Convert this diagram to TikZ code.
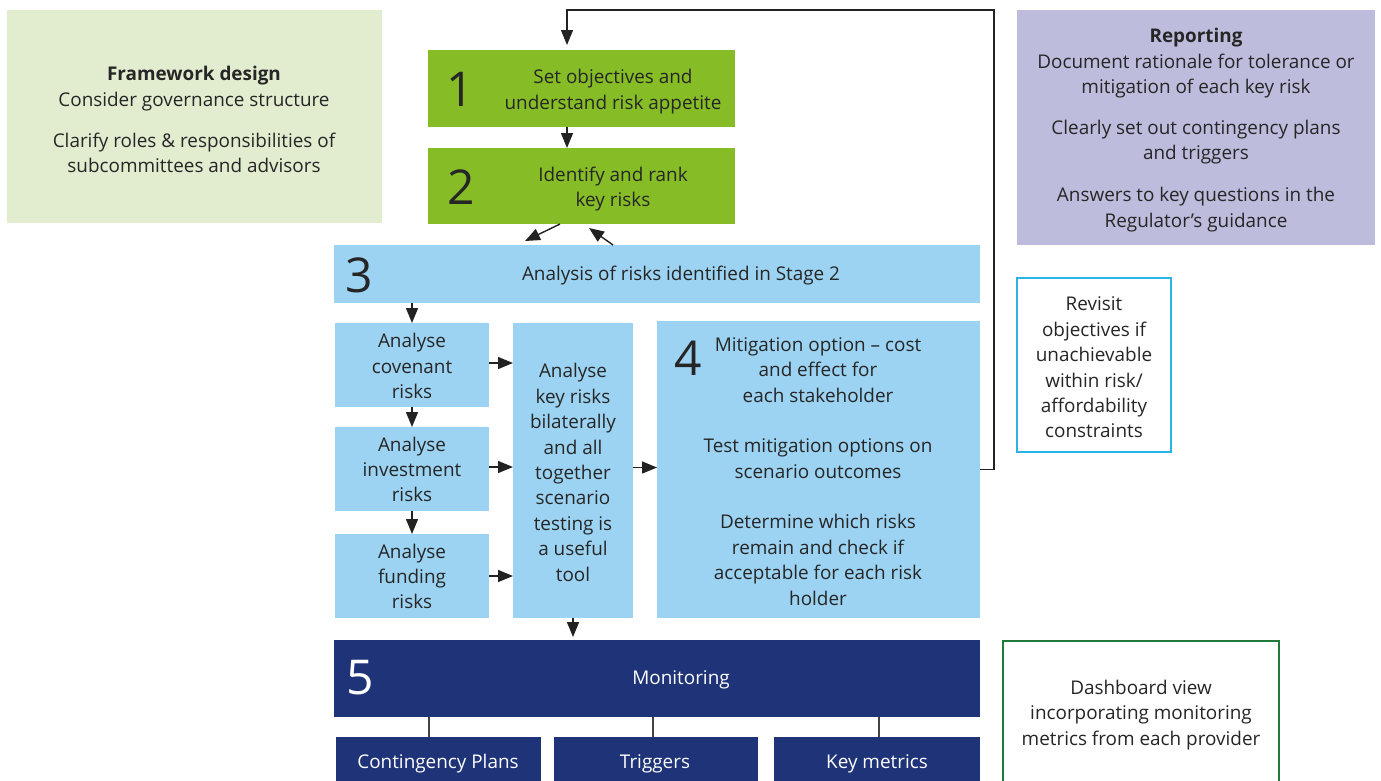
\documentclass[tikz,border=0pt]{standalone}
\usepackage{fontspec}
\setmainfont{Open Sans}
\usetikzlibrary{arrows.meta}
\definecolor{fwg}{HTML}{E2EDD0}
\definecolor{grn}{HTML}{86BC25}
\definecolor{lb}{HTML}{9CD3F2}
\definecolor{navy}{HTML}{1E3378}
\definecolor{lav}{HTML}{BDBCDD}
\definecolor{cyb}{HTML}{29B4E8}
\definecolor{dgb}{HTML}{217A3C}
\definecolor{tc}{HTML}{262626}
\definecolor{ac}{HTML}{222222}
\begin{document}
\begin{tikzpicture}[x=1pt,y=-1pt,
  font=\fontsize{18.9}{25.4}\selectfont,
  box/.style={draw=none, inner sep=0pt, outer sep=0pt, anchor=north west},
  txt/.style={align=center, inner sep=0pt, text=tc, yshift=-2pt},
  wtxt/.style={align=center, inner sep=0pt, text=white, yshift=-2pt},
  num/.style={font=\fontsize{48}{48}\selectfont, inner sep=0pt, text=tc},
  arr/.style={-{Triangle[length=15pt,width=12pt]}, line width=1.4pt, draw=ac},
  fb/.style={-{Triangle[length=15pt,width=12pt]}, line width=1.2pt, draw=ac},
  conn/.style={line width=1.3pt, draw=ac!85}
]
\useasboundingbox (0,0) rectangle (1381,780);
\fill[white] (0,0) rectangle (1381,780);

% boxes
\node[box, fill=fwg, minimum width=375pt, minimum height=213pt] (fw) at (7,10) {};
\node[box, fill=grn, minimum width=307pt, minimum height=77pt] (b1) at (428,50) {};
\node[box, fill=grn, minimum width=307pt, minimum height=76pt] (b2) at (428,148) {};
\node[box, fill=lb, minimum width=646pt, minimum height=58pt] (b3) at (334,245) {};
\node[box, fill=lb, minimum width=154pt, minimum height=84pt] (cov) at (335,323) {};
\node[box, fill=lb, minimum width=154pt, minimum height=84pt] (inv) at (335,427) {};
\node[box, fill=lb, minimum width=154pt, minimum height=84pt] (fun) at (335,534) {};
\node[box, fill=lb, minimum width=120pt, minimum height=295pt] (mid) at (513,323) {};
\node[box, fill=lb, minimum width=323pt, minimum height=297pt] (b4) at (657,321) {};
\node[box, fill=navy, minimum width=646pt, minimum height=77pt] (b5) at (334,640) {};
\node[box, fill=navy, minimum width=205pt, minimum height=50pt] (s1) at (336,737) {};
\node[box, fill=navy, minimum width=204pt, minimum height=50pt] (s2) at (554,737) {};
\node[box, fill=navy, minimum width=206pt, minimum height=50pt] (s3) at (774,737) {};
\node[box, fill=lav, minimum width=358pt, minimum height=235pt] (rep) at (1017,10) {};
\node[box, draw=cyb, line width=1.2pt, minimum width=154pt, minimum height=174pt] (rev) at (1017,278) {};
\node[box, draw=dgb, line width=1.2pt, minimum width=276pt, minimum height=145pt] (dash) at (1003,641) {};

% texts
\node[txt] (fwT) at (194,117.5) {\textbf{Framework design}\\Consider governance structure\\[15.6pt]Clarify roles \& responsibilities of\\subcommittees and advisors};
\node[num] (n1) at (460,89) {1};
\node[txt] (b1T) at (613,89.5) {Set objectives and\\understand risk appetite};
\node[num] (n2) at (461,187) {2};
\node[txt] (b2T) at (613,187) {Identify and rank\\key risks};
\node[num] (n3) at (359,275) {3};
\node[txt] (b3T) at (681,274) {Analysis of risks identified in Stage 2};
\node[txt] (covT) at (412,364) {Analyse\\covenant\\risks};
\node[txt] (invT) at (412,467.5) {Analyse\\investment\\risks};
\node[txt] (funT) at (412,574.5) {Analyse\\funding\\risks};
\node[txt] (midT) at (573,470.5) {Analyse\\key risks\\bilaterally\\and all\\together\\scenario\\testing is\\a useful\\tool};
\node[num] (n4) at (688,358) {4};
\node[txt] (b4Ta) at (818,368) {Mitigation option -- cost\\and effect for\\each stakeholder};
\node[txt] (b4Tb) at (818,456.5) {Test mitigation options on\\scenario outcomes};
\node[txt] (b4Tc) at (818,558) {Determine which risks\\remain and check if\\acceptable for each risk\\holder};
\node[num, text=white] (n5) at (360,678) {5};
\node[wtxt] (b5T) at (681,678) {Monitoring};
\node[wtxt] (s1T) at (438,762) {Contingency Plans};
\node[wtxt] (s2T) at (655,762) {Triggers};
\node[wtxt] (s3T) at (877,762) {Key metrics};
\node[txt] (repT) at (1196,128) {\textbf{Reporting}\\Document rationale for tolerance or\\mitigation of each key risk\\[15.6pt]Clearly set out contingency plans\\and triggers\\[16.6pt]Answers to key questions in the\\Regulator’s guidance};
\node[txt] (revT) at (1094,365.5) {Revisit\\objectives if\\unachievable\\within risk/\\affordability\\constraints};
\node[txt] (dashT) at (1141,713) {Dashboard view\\incorporating monitoring\\metrics from each provider};

% connectors
\draw[arr] ([xshift=-14.5pt]b1.south) -- ([xshift=-14.5pt]b2.north);
\coordinate (fbc) at (994,10);
\draw[fb] (b4.east) -| (fbc) -| ([xshift=-14.5pt,yshift=5pt]b1.north);
\draw[arr] ([xshift=-21.5pt]b2.south) -- ([xshift=-132pt,yshift=4pt]b3.north);
\draw[arr] ([xshift=-44pt]b3.north) -- ([xshift=7.5pt,yshift=-4pt]b2.south);
\draw[arr] (b3.south -| cov.north) -- (cov.north);
\draw[arr] (cov.south) -- (inv.north);
\draw[arr] (inv.south) -- (fun.north);
\draw[arr] ([yshift=2pt]cov.east) -- ([yshift=2pt]cov.east -| mid.west);
\draw[arr] ([yshift=2pt]inv.east) -- ([yshift=2pt]inv.east -| mid.west);
\draw[arr] (fun.east) -- (fun.east -| mid.west);
\draw[arr] ([yshift=3pt]mid.east) -- ([yshift=3pt]mid.east -| b4.west);
\draw[arr] (mid.south) -- ([yshift=3pt]mid.south |- b5.north);
\draw[conn] ([xshift=-9.5pt]s1.north) -- ([xshift=-9.5pt]s1.north |- b5.south);
\draw[conn] ([xshift=-3pt]s2.north) -- ([xshift=-3pt]s2.north |- b5.south);
\draw[conn] ([xshift=2pt]s3.north) -- ([xshift=2pt]s3.north |- b5.south);
\end{tikzpicture}
\end{document}
